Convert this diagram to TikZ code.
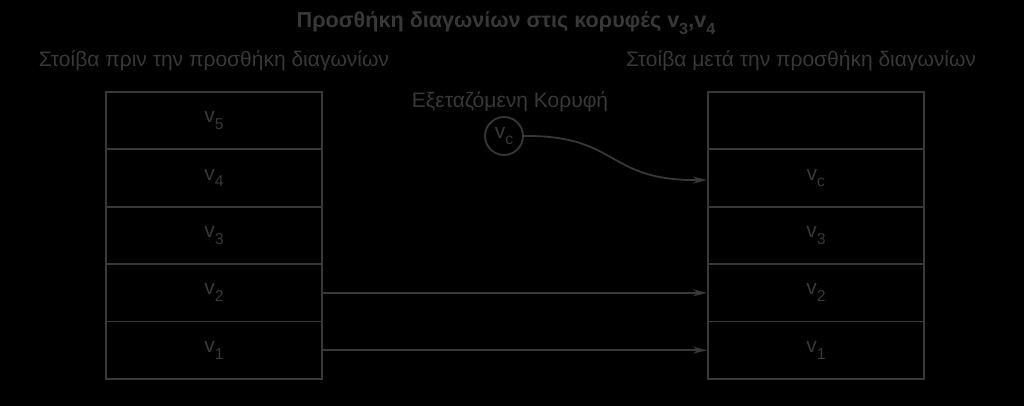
\documentclass[tikz,border=0pt]{standalone}
\usepackage{fontspec}
\setmainfont{Liberation Sans}
\newcommand\subs[1]{\raisebox{-0.32em}{\scalebox{0.75}{#1}}}
\begin{document}
\begin{tikzpicture}[x=1pt,y=-1pt,
  ink/.style={draw=inkc,line width=1.8pt},
  cell/.style={ink,minimum width=216pt,minimum height=57.4pt,inner sep=0pt,anchor=north west,text=inkc,font=\fontsize{21}{24}\selectfont},
  lbl/.style={text=inkc,inner sep=0pt,font=\fontsize{21}{24}\selectfont},
  arr/.style={ink,-{Stealth[length=14pt,width=7pt]}}]
\definecolor{inkc}{HTML}{383838}
\usetikzlibrary{arrows.meta}
\fill[black] (0,0) rectangle (1024,406);
\useasboundingbox (0,0) rectangle (1024,406);
\node[lbl,font=\bfseries\fontsize{21.6}{24}\selectfont] (title) at (506,23) {Προσθήκη διαγωνίων στις κορυφές v\subs{3},v\subs{4}};
\node[lbl] (ltitle) at (214,61) {Στοίβα πριν την προσθήκη διαγωνίων};
\node[lbl] (rtitle) at (801,61) {Στοίβα μετά την προσθήκη διαγωνίων};
\node[lbl] (exlab) at (510,102) {Εξεταζόμενη Κορυφή};
% left stack
\node[cell] (l5) at (105,91) {v\subs{5}};
\node[cell] (l4) at (105,148.4) {v\subs{4}};
\node[cell] (l3) at (105,205.8) {v\subs{3}};
\node[cell] (l2) at (105,263.2) {v\subs{2}};
\node[cell] (l1) at (105,320.6) {v\subs{1}};
% right stack
\node[cell] (r5) at (707,91) {};
\node[cell] (r4) at (707,148.4) {v\subs{c}};
\node[cell] (r3) at (707,205.8) {v\subs{3}};
\node[cell] (r2) at (707,263.2) {v\subs{2}};
\node[cell] (r1) at (707,320.6) {v\subs{1}};
% vc circle
\node[ink,circle,minimum size=38pt,inner sep=0pt,text=inkc,font=\fontsize{21}{24}\selectfont] (vc) at (504,136) {v\subs{c}};
\draw[arr] (l2.east) -- (r2.west);
\draw[arr] (l1.east) -- (r1.west);
\coordinate (vcend) at (707,180);
\draw[arr] (vc.east) .. controls (620,135) and (605,181) .. (vcend);
\end{tikzpicture}
\end{document}
